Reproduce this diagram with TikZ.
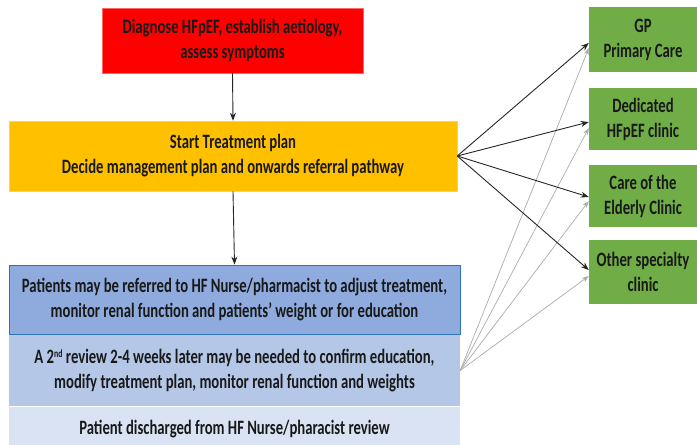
\documentclass[tikz,border=0pt]{standalone}
\usepackage{fontspec}
\setmainfont[FakeStretch=0.72]{Carlito}
\usetikzlibrary{arrows.meta}
\definecolor{redbox}{HTML}{FF0000}
\definecolor{orangebox}{HTML}{FFC000}
\definecolor{blueA}{HTML}{8FAADC}
\definecolor{blueB}{HTML}{B4C7E7}
\definecolor{blueC}{HTML}{DAE3F3}
\definecolor{blueline}{HTML}{2E75B6}
\definecolor{greenbox}{HTML}{70AD47}
\definecolor{grayarrow}{HTML}{ABABAB}
\begin{document}
\begin{tikzpicture}[x=1pt,y=-1pt,
  box/.style={rectangle, inner sep=0pt, align=center, font=\fontsize{20.4}{25}\selectfont\bfseries, text=black!90},
  gbox/.style={box, fill=greenbox, minimum width=108pt},
  blk/.style={-{Stealth[length=8pt,width=6pt]}, line width=0.9pt, black!85},
  gry/.style={-{Stealth[length=7pt,width=5pt]}, line width=0.7pt, grayarrow}]
\useasboundingbox (0,0) rectangle (697,445);
\clip (0,0) rectangle (697,445);
\node[box, fill=redbox, draw=red!60!white, line width=0.5pt, minimum width=261pt, minimum height=65pt] (diag) at (232.5,40.5) {Diagnose HFpEF, establish aetiology,\\assess symptoms};
\node[box, fill=orangebox, draw=orangebox!70!white, line width=0.5pt, minimum width=448pt, minimum height=70pt] (start) at (233,156) {Start Treatment plan\\Decide management plan and onwards referral pathway};
\node[box, fill=blueC, minimum width=451pt, minimum height=45pt] (disc) at (234.5,429) {Patient discharged from HF Nurse/pharacist review};
\node[box, fill=blueB, minimum width=451pt, minimum height=71pt] (rev) at (234.5,370.5) {A 2\raisebox{6pt}{\fontsize{11}{11}\selectfont nd} review 2-4 weeks later may be needed to confirm education,\\modify treatment plan, monitor renal function and weights};
\node[box, fill=blueA, draw=blueline, line width=0.8pt, minimum width=451pt, minimum height=69pt] (nurse) at (234.5,299.5) {Patients may be referred to HF Nurse/pharmacist to adjust treatment,\\monitor renal function and patients’ weight or for education};
\node[gbox, minimum height=65pt] (gp) at (643,39.5) {GP\\Primary Care};
\node[gbox, minimum height=62pt] (hf) at (643,119) {Dedicated\\HFpEF clinic};
\node[gbox, minimum height=62pt] (eld) at (643,196) {Care of the\\Elderly Clinic};
\node[gbox, minimum height=64pt] (oth) at (643,272) {Other specialty\\clinic};
\draw[blk] (diag.south) -- (start.north);
\draw[blk] (start.south) -- (nurse.north);
\draw[gry] (rev.east) -- ([yshift=-8.5pt]gp.west);
\draw[gry] (rev.east) -- ([yshift=-9pt]hf.west);
\draw[gry] (rev.east) -- ([yshift=-5pt]eld.west);
\draw[gry] (rev.east) -- ([yshift=-4pt]oth.west);
\draw[blk] (start.east) -- ([yshift=-3.5pt]gp.west);
\draw[blk] (start.east) -- ([yshift=-3pt]hf.west);
\draw[blk] (start.east) -- ([yshift=-1pt]eld.west);
\draw[blk] (start.east) -- ([yshift=2pt]oth.west);
\end{tikzpicture}
\end{document}
